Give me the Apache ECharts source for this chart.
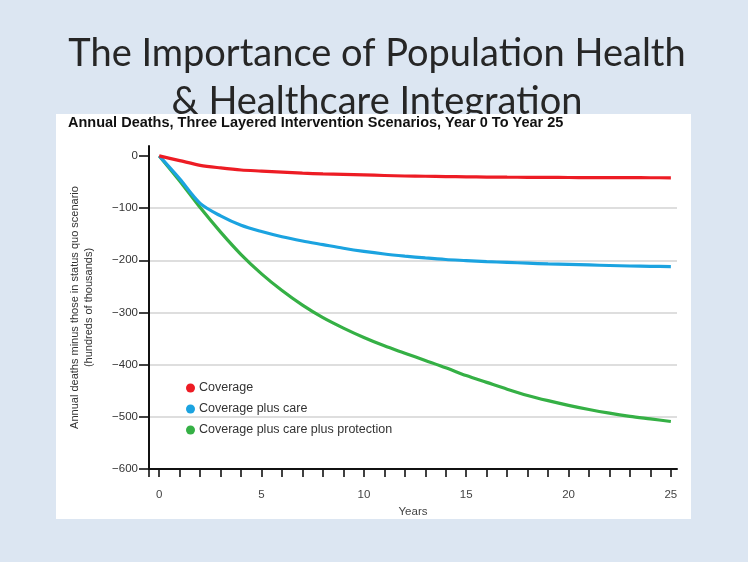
<!DOCTYPE html>
<html>
<head>
<meta charset="utf-8">
<script src="https://cdn.jsdelivr.net/npm/echarts@6/dist/echarts.min.js"></script>
<style>
html,body{margin:0;padding:0;background:#dce6f2;}
#chart{width:748px;height:562px;}
</style>
</head>
<body>
<div id="chart"></div>
<script>
const years = [0,1,2,3,4,5,6,7,8,9,10,11,12,13,14,15,16,17,18,19,20,21,22,23,24,25];
const coverage = [0,-9,-18,-23,-27,-29,-31,-33,-34.5,-35.5,-36.5,-37.5,-38.5,-39,-39.5,-40,-40.5,-40.8,-41,-41.2,-41.4,-41.5,-41.6,-41.7,-41.8,-42];
const coveragePlusCare = [0,-44,-91,-115,-133,-145,-155,-163,-170,-177,-183,-188,-192,-195.5,-198.5,-200.5,-202.5,-204,-205.5,-207,-208,-209,-210,-211,-211.5,-212];
const coveragePlusCarePlusProtection = [0,-48,-99,-146,-189,-226,-258,-286,-310,-330,-348,-364,-378,-392,-406,-421,-434,-447,-459,-469,-478,-486,-493,-499,-504,-509];
const seriesNames = ['Coverage','Coverage plus care','Coverage plus care plus protection'];
const yTickValues = [-600,-500,-400,-300,-200,-100,0];
const xTickValues = [-0.5,0,1,2,3,4,5,6,7,8,9,10,11,12,13,14,15,16,17,18,19,20,21,22,23,24,25];
const xLabelValues = [0,5,10,15,20,25];

const chart = echarts.init(document.getElementById('chart'));
const pairs = arr => years.map((y,i)=>[y,arr[i]]);
const colors = ['#ed1c24','#1ba3e0','#35b045'];
const lineSeries = [coverage, coveragePlusCare, coveragePlusCarePlusProtection].map((arr,i)=>({
  name: seriesNames[i],
  type: 'line',
  data: pairs(arr),
  smooth: 0.3,
  showSymbol: false,
  symbol: 'circle',
  lineStyle: {width: 3.2, color: colors[i]},
  itemStyle: {color: colors[i]},
  z: 3 + (2 - i)
}));

chart.setOption({
  animation: false,
  backgroundColor: '#dce6f2',
  title: [
    {
      text: 'The Importance of Population Health\n& Healthcare Integration',
      left: 372, top: 25, textAlign: 'center', z: 0,
      textStyle: {fontFamily: 'Lato', fontWeight: 'normal', fontSize: 38, lineHeight: 48, color: '#262626'}
    },
    {
      text: 'Annual Deaths, Three Layered Intervention Scenarios, Year 0 To Year 25',
      left: 63, top: 110, z: 5,
      textStyle: {fontFamily: 'Liberation Sans', fontWeight: 'bold', fontSize: 14.5, color: '#111'}
    }
  ],
  graphic: [
    {type: 'rect', z: 1, shape: {x: 56, y: 114, width: 635, height: 405}, style: {fill: '#ffffff'}}
  ],
  legend: {
    orient: 'vertical', left: 181, top: 376, z: 4,
    icon: 'circle', itemWidth: 9, itemHeight: 9, itemGap: 7,
    data: seriesNames,
    textStyle: {fontFamily: 'Liberation Sans', fontSize: 12.5, color: '#333', lineHeight: 14, padding: [0,0,0,-1]}
  },
  grid: {left: 149, right: 71, top: 146, bottom: 93, containLabel: false},
  xAxis: {
    type: 'value', min: -0.5, max: 25.3, z: 3,
    name: 'Years', nameLocation: 'middle', nameGap: 36,
    nameTextStyle: {fontFamily: 'Liberation Sans', fontSize: 11.5, color: '#444'},
    axisLine: {onZero: false, lineStyle: {color: '#111', width: 2}},
    axisTick: {customValues: xTickValues, length: 8, lineStyle: {color: '#111', width: 1.6}},
    axisLabel: {customValues: xLabelValues, margin: 20, fontFamily: 'Liberation Sans', fontSize: 11.5, color: '#444'},
    splitLine: {show: false}
  },
  yAxis: {
    type: 'value', min: -600, max: 19, interval: 100, z: 2,
    name: 'Annual deaths minus those in status quo scenario\n(hundreds of thousands)',
    nameLocation: 'middle', nameGap: 53, nameRotate: 90,
    nameTextStyle: {fontFamily: 'Liberation Sans', fontSize: 11, color: '#333', lineHeight: 14},
    axisLine: {onZero: false, lineStyle: {color: '#111', width: 2}},
    axisTick: {customValues: yTickValues, length: 10, lineStyle: {color: '#111', width: 1.6}},
    axisLabel: {customValues: yTickValues, margin: 11, fontFamily: 'Liberation Sans', fontSize: 11.5, color: '#333',
      padding: [0,0,5,0],
      formatter: v => v < 0 ? '\u2212' + Math.abs(v) : String(v)},
    splitLine: {show: true, showMinLine: false, showMaxLine: false, lineStyle: {color: '#d3d3d3', width: 1.5}}
  },
  series: lineSeries
});
</script>
</body>
</html>
